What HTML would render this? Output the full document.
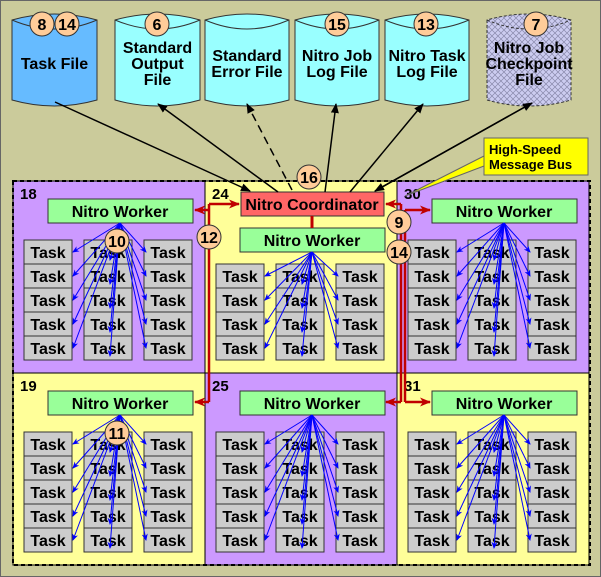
<!DOCTYPE html>
<html><head><meta charset="utf-8"><style>
body{margin:0;background:#cbcb9b}
svg{display:block;font-family:"Liberation Sans",sans-serif;font-weight:bold}
</style></head><body>
<svg id="s" width="601" height="577" xmlns="http://www.w3.org/2000/svg">
<defs>
<marker id="ab" markerWidth="10" markerHeight="8" refX="9" refY="4" orient="auto" markerUnits="userSpaceOnUse"><path d="M0,0 L10,4 L0,8z" fill="#000"/></marker>
<marker id="ar" markerWidth="11" markerHeight="9" refX="10" refY="4.5" orient="auto" markerUnits="userSpaceOnUse"><path d="M0,0 L11,4.5 L0,9 L3,4.5z" fill="#c00000"/></marker>
<marker id="au" markerWidth="7" markerHeight="6" refX="6" refY="3" orient="auto" markerUnits="userSpaceOnUse"><path d="M0,0 L7,3 L0,6 L2,3z" fill="#0000ff"/></marker>
<pattern id="hx" width="6" height="6" patternUnits="userSpaceOnUse"><rect width="6" height="6" fill="#ccccf0"/><path d="M0,0L6,6M6,0L0,6" stroke="#8888aa" stroke-width="0.7"/></pattern>
</defs>
<rect x="0.5" y="0.5" width="600" height="576" fill="#cbcb9b" stroke="#666" stroke-width="1"/>
<g id="g"></g>
</svg>
<script>
const g=document.getElementById('g');let h='';
function R(x,y,w,hh,f,st,extra){h+=`<rect x="${x}" y="${y}" width="${w}" height="${hh}" fill="${f}" stroke="${st||'#333'}" ${extra||''}/>`}
function T(x,y,t,sz,anc){h+=`<text x="${x}" y="${y}" font-size="${sz||16}" text-anchor="${anc||'middle'}">${t}</text>`}
function L(x1,y1,x2,y2,st,w,m,extra){h+=`<line x1="${x1}" y1="${y1}" x2="${x2}" y2="${y2}" stroke="${st}" stroke-width="${w}" ${m?`marker-end="url(#${m})"`:''} ${extra||''}/>`}
function C(x,y,n){h+=`<circle cx="${x}" cy="${y}" r="12" fill="#ffcc99" stroke="#333"/>`;T(x,y+6,n,16)}
function cyl(x,w,f,lines,dash){const t=20,b=100;const d=dash?'stroke-dasharray="3,2"':'';
h+=`<path d="M${x},${t} L${x},${b} Q${x+w/2},${b+12} ${x+w},${b} L${x+w},${t} Q${x+w/2},${t-12} ${x},${t}z" fill="${f}" stroke="#333" ${d}/>`;
h+=`<path d="M${x},${t} Q${x+w/2},${t+18} ${x+w},${t}" fill="none" stroke="#333" ${d}/>`;
const y0=lines.length==1?69:(lines.length==2?61:53);lines.forEach((l,i)=>T(x+w/2,y0+i*16,l,16));}
cyl(12,85,'#66bbff',['Task File']);
cyl(115,85,'#99ffff',['Standard','Output','File']);
cyl(205,84,'#99ffff',['Standard','Error File']);
cyl(295,84,'#99ffff',['Nitro Job','Log File']);
cyl(385,84,'#99ffff',['Nitro Task','Log File']);
cyl(487,84,'url(#hx)',['Nitro Job','Checkpoint','File'],1);
C(42,24,'8');C(67,24,'14');C(157,24,'6');C(337,24,'15');C(426,24,'13');C(536,24,'7');
const cols=[13,205,397],rows=[181,373];
const cf=[['#cc99ff','#ffff99'],['#ffff99','#cc99ff'],['#cc99ff','#ffff99']];
const nums=[['18','19'],['24','25'],['30','31']];
for(let c=0;c<3;c++)for(let r=0;r<2;r++){R(cols[c],rows[r],192,192,cf[c][r],'#000');T(cols[c]+7,rows[r]+18,nums[c][r],15,'start');}
h+=`<rect x="13" y="181" width="577" height="384" fill="none" stroke="#000" stroke-width="2" stroke-dasharray="4,3"/>`;
function grp(cx,wy,ty,n){const wx=cx-72;R(wx,wy,145,24,'#99ff99','#333');T(cx,wy+18,'Nitro Worker',16);
const xs=[cx-96,cx-36,cx+24];
for(let k=0;k<3;k++)for(let i=0;i<n;i++){R(xs[k],ty+i*24,48,24,'#cccccc','#333');T(xs[k]+24,ty+i*24+18,'Task',16);}
const sx=cx,sy=wy+24;
for(let i=0;i<n;i++){const cy=ty+i*24+12;
L(sx,sy,xs[0]+49,cy,'#0000ff',1,'au');L(sx,sy,xs[1]+26,cy+8,'#0000ff',1,'au');L(sx,sy,xs[2]+2,cy,'#0000ff',1,'au');}}
grp(120,199,240,5);grp(120,391,432,5);
grp(312,228,264,4);grp(312,391,432,5);
grp(504,199,240,5);grp(504,391,432,5);
R(241,192,143,24,'#ff6666','#333');T(312,210,'Nitro Coordinator',16);
L(312,216,312,228,'#c00000',3);
L(209,204,209,402,'#c00000',2.5);L(209,204,239,204,'#c00000',2.5,'ar');L(209,210,195,210,'#c00000',2.5,'ar');L(209,402,195,402,'#c00000',2.5,'ar');
L(401,204,401,402,'#c00000',2.5);L(405,210,405,402,'#c00000',2.5);
L(401,204,386,204,'#c00000',2.5,'ar');L(405,210,430,210,'#c00000',2.5,'ar');
L(401,402,386,402,'#c00000',2.5,'ar');L(405,402,430,402,'#c00000',2.5,'ar');
C(209,237,'12');C(399,222,'9');C(399,252,'14');C(117,241,'10');C(117,433,'11');
L(55,102,250,191,'#000',1.5,'ab');
L(278,192,158,104,'#000',1.5,'ab');
L(292,190,247,104,'#000',1.5,'ab','stroke-dasharray="8,5"');
L(325,192,336,104,'#000',1.5,'ab');
L(350,192,423,104,'#000',1.5,'ab');
L(532,103,375,191,'#000',1.5,'ab');L(375,191,532,103,'#000',1.5,'ab');
C(309,177,'16');
h+=`<path d="M484,156 L405,196 L484,166z" fill="#ffff00" stroke="#666"/>`;
R(484,138,104,37,'#ffff00','#666');
h+=`<text x="489" y="154" font-size="13">High-Speed</text><text x="489" y="169" font-size="13">Message Bus</text>`;
g.innerHTML=h;
</script>
</body></html>
